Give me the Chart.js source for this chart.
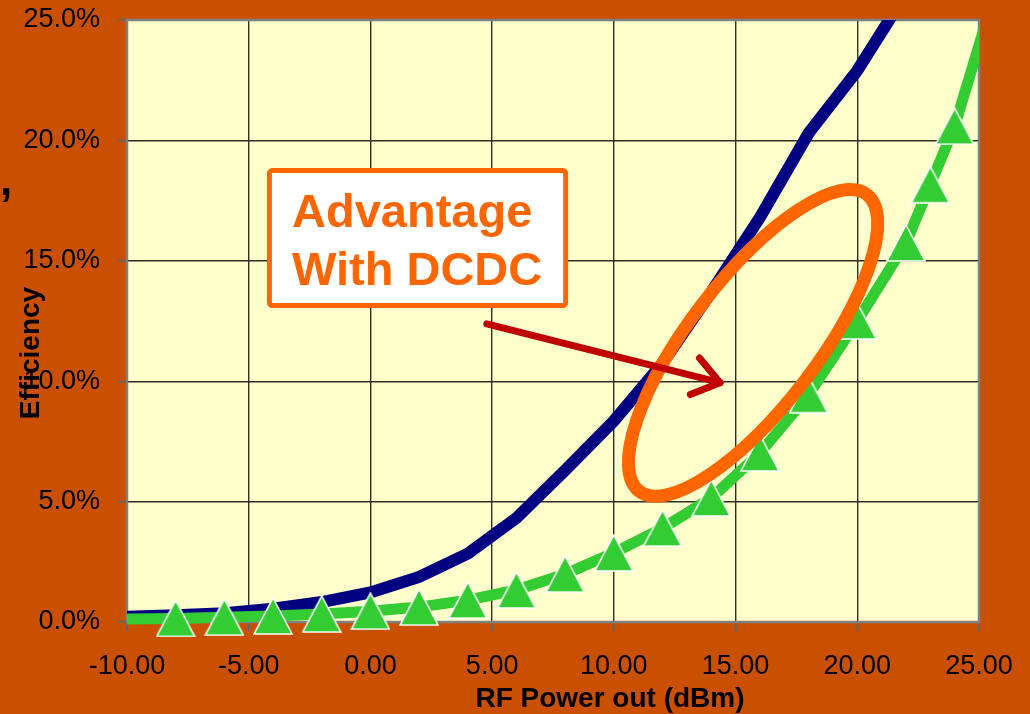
<!DOCTYPE html>
<html>
<head>
<meta charset="utf-8">
<title>Efficiency vs RF Power out</title>
<script src="https://cdn.jsdelivr.net/npm/chart.js@4/dist/chart.umd.min.js"></script>
<style>
  html, body { margin: 0; padding: 0; background: #C85000; }
  canvas { display: block; }
</style>
</head>
<body>
<canvas id="chart" width="1030" height="714"></canvas>
<script>
// RF output power (dBm) and PA efficiency (%) for the two supply configurations
const withDcdcPower = [-10, -8, -6, -4, -2, 0, 2, 4, 6, 8, 10, 12, 14, 16, 18, 20, 22];
const withDcdcEff   = [0.22, 0.28, 0.36, 0.55, 0.83, 1.23, 1.87, 2.84, 4.32, 6.3, 8.35, 10.75, 13.7, 16.8, 20.3, 22.9, 26.1];

const withoutDcdcPower = [-10, -8, -6, -4, -2, 0, 2, 4, 6, 8, 10, 12, 14, 16, 18, 20, 22, 23, 24, 26];
const withoutDcdcEff   = [0.12, 0.15, 0.2, 0.25, 0.33, 0.45, 0.62, 0.91, 1.33, 1.99, 2.87, 3.9, 5.15, 7.02, 9.44, 12.5, 15.74, 18.16, 20.59, 27.3];

// Axis ranges and tick spacing
const powerRange = [-10, 25];
const powerStep = 5;
const effRange = [0, 25];
const effStep = 5;

// Titles and callout text
const xTitle = 'RF Power out (dBm)';
const yTitle = 'Efficiency';
const calloutLines = ['Advantage', 'With DCDC'];

const FONT = '"Liberation Sans", Arial, Helvetica, sans-serif';
const ORANGE = '#FF6600';

// Triangle marker with white outline, centred on its bounding box
function makeTriangle(w, h) {
  const c = document.createElement('canvas');
  c.width = w; c.height = h;
  const g = c.getContext('2d');
  g.beginPath();
  g.moveTo(w / 2, 1);
  g.lineTo(w - 1, h - 1);
  g.lineTo(1, h - 1);
  g.closePath();
  g.fillStyle = '#33CC33';
  g.fill();
  g.lineWidth = 1.6;
  g.strokeStyle = '#FFFFFF';
  g.stroke();
  return c;
}
const triangle = makeTriangle(40, 38);

const toPoints = (xs, ys) => xs.map((x, i) => ({ x, y: ys[i] }));

// Slide background and pale plot area
const backdrop = {
  id: 'backdrop',
  beforeDraw(chart) {
    const { ctx, chartArea: a } = chart;
    ctx.save();
    ctx.fillStyle = '#C85000';
    ctx.fillRect(0, 0, chart.width, chart.height);
    ctx.fillStyle = '#FFFFCC';
    ctx.fillRect(a.left, a.top, a.right - a.left, a.bottom - a.top);
    ctx.restore();
  }
};

// Grey frame round the plot area
const frame = {
  id: 'frame',
  beforeDatasetsDraw(chart) {
    const { ctx, chartArea: a } = chart;
    ctx.save();
    ctx.strokeStyle = '#808080';
    ctx.lineWidth = 2.5;
    ctx.strokeRect(a.left, a.top, a.right - a.left, a.bottom - a.top);
    ctx.restore();
  }
};

// Axis titles, callout box, highlight ellipse and arrow
const overlay = {
  id: 'overlay',
  afterDraw(chart) {
    const { ctx, scales: { x, y } } = chart;
    const px = v => x.getPixelForValue(v);
    const py = v => y.getPixelForValue(v);
    ctx.save();

    // axis titles
    ctx.fillStyle = '#000';
    ctx.font = 'bold 28px ' + FONT;
    ctx.textAlign = 'center';
    ctx.textBaseline = 'alphabetic';
    ctx.fillText(xTitle, 610, 707);
    ctx.save();
    ctx.translate(39, 353);
    ctx.rotate(-Math.PI / 2);
    ctx.fillText(yTitle, 0, 0);
    ctx.restore();
    ctx.textAlign = 'left';
    ctx.font = 'bold 44px ' + FONT;
    ctx.fillText(',', 0, 195);

    // callout box
    const bx0 = px(-4.15), bx1 = px(8.02), by0 = py(18.75), by1 = py(13.14);
    ctx.beginPath();
    ctx.roundRect(bx0, by0, bx1 - bx0, by1 - by0, 3);
    ctx.fillStyle = '#FFFFFF';
    ctx.fill();
    ctx.lineWidth = 5;
    ctx.strokeStyle = ORANGE;
    ctx.stroke();
    ctx.fillStyle = ORANGE;
    ctx.font = 'bold 47px ' + FONT;
    ctx.textAlign = 'left';
    ctx.fillText(calloutLines[0], px(-3.22), py(16.4));
    ctx.fillText(calloutLines[1], px(-3.22), py(14.0));

    // highlight ellipse
    ctx.beginPath();
    ctx.ellipse(px(15.72), py(11.59), 187, 64, -52.5 * Math.PI / 180, 0, Math.PI * 2);
    ctx.lineWidth = 13;
    ctx.strokeStyle = ORANGE;
    ctx.stroke();

    // arrow
    const sx = px(4.78), sy = py(12.38), tx = px(14.36), ty = py(9.94);
    const ang = Math.atan2(ty - sy, tx - sx);
    const head = 32, spread = 36 * Math.PI / 180;
    ctx.strokeStyle = '#C00000';
    ctx.lineWidth = 7;
    ctx.lineCap = 'round';
    ctx.lineJoin = 'round';
    ctx.beginPath();
    ctx.moveTo(sx, sy);
    ctx.lineTo(tx, ty);
    ctx.stroke();
    ctx.beginPath();
    ctx.moveTo(tx - head * Math.cos(ang - spread), ty - head * Math.sin(ang - spread));
    ctx.lineTo(tx, ty);
    ctx.lineTo(tx - head * Math.cos(ang + spread), ty - head * Math.sin(ang + spread));
    ctx.stroke();

    ctx.restore();
  }
};

Chart.defaults.font.family = FONT;
Chart.defaults.color = '#000';

new Chart(document.getElementById('chart'), {
  type: 'line',
  data: {
    datasets: [
      {
        label: 'Without DCDC',
        data: toPoints(withoutDcdcPower, withoutDcdcEff),
        borderColor: '#33CC33',
        backgroundColor: '#33CC33',
        borderWidth: 11,
        tension: 0,
        pointStyle: triangle,
        pointRadius: ctx => (ctx.dataIndex === 0 ? 0 : 19),
        clip: { left: 0, top: 0, right: 0, bottom: false },
        order: 0
      },
      {
        label: 'With DCDC',
        data: toPoints(withDcdcPower, withDcdcEff),
        borderColor: '#000080',
        backgroundColor: '#000080',
        borderWidth: 12,
        tension: 0,
        pointRadius: 0,
        clip: { left: 0, top: 0, right: 0, bottom: false },
        order: 1
      }
    ]
  },
  options: {
    responsive: false,
    animation: false,
    devicePixelRatio: 1,
    layout: { autoPadding: false, padding: { left: 0, right: 51, top: 20, bottom: 0 } },
    plugins: { legend: { display: false }, tooltip: { enabled: false } },
    scales: {
      x: {
        type: 'linear',
        min: powerRange[0],
        max: powerRange[1],
        afterFit: s => { s.height = 92; s.paddingLeft = 0; s.paddingRight = 0; },
        border: { display: false },
        grid: { color: '#2e2e26', lineWidth: 1.4, tickLength: 9, tickColor: '#666', tickWidth: 2 },
        ticks: {
          stepSize: powerStep,
          padding: 19,
          maxRotation: 0,
          font: { size: 27 },
          callback: v => v.toFixed(2)
        }
      },
      y: {
        min: effRange[0],
        max: effRange[1],
        afterFit: s => { s.width = 127; s.paddingTop = 0; s.paddingBottom = 0; },
        border: { display: false },
        grid: { color: '#2e2e26', lineWidth: 1.4, tickLength: 9, tickColor: '#666', tickWidth: 2 },
        ticks: {
          stepSize: effStep,
          padding: 18,
          font: { size: 27 },
          callback: v => v.toFixed(1) + '%'
        }
      }
    }
  },
  plugins: [backdrop, frame, overlay]
});
</script>
</body>
</html>
